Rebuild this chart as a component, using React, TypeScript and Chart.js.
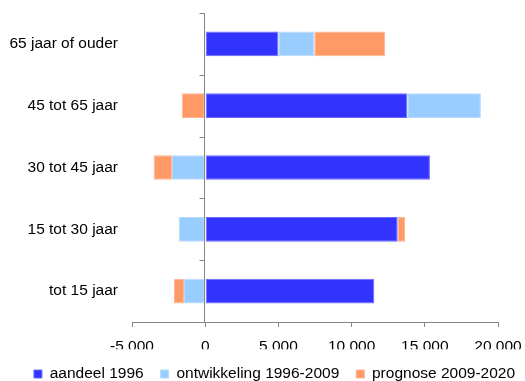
import React, { useEffect, useRef } from "react";
import { Chart, registerables } from "chart.js";

Chart.register(...registerables);

const categories = [
  "65 jaar of ouder",
  "45 tot 65 jaar",
  "30 tot 45 jaar",
  "15 tot 30 jaar",
  "tot 15 jaar",
];
const aandeel1996 = [5000, 13800, 15350, 13150, 11550];
const ontwikkeling19962009 = [2450, 5030, -2270, -1810, -1450];
const prognose20092020 = [4850, -1600, -1250, 500, -680];

const seriesNames = ["aandeel 1996", "ontwikkeling 1996-2009", "prognose 2009-2020"];
const seriesColors = ["#3333FF", "#99CCFF", "#FF9966"];
const seriesEdges = ["#6A6AFF", "#B5DAFF", "#FFB48F"];

const xMin = -5000;
const xMax = 20000;
const xStep = 5000;

const FONT = "'Liberation Sans', Arial, sans-serif";
const FONT_SIZE = 15.5;
const AXIS_GREY = "#868686";

function formatThousands(v: number): string {
  const sign = v < 0 ? "-" : "";
  const s = Math.round(Math.abs(v)).toString();
  return sign + s.replace(/\B(?=(\d{3})+(?!\d))/g, ".");
}

// Vertical axis line at zero with small tick marks between the categories.
const zeroAxisPlugin = {
  id: "zeroAxis",
  afterDraw(chart: any) {
    const { ctx, chartArea, scales } = chart;
    const x = Math.round(scales.x.getPixelForValue(0)) - 0.5;
    ctx.save();
    ctx.strokeStyle = AXIS_GREY;
    ctx.lineWidth = 1;
    ctx.beginPath();
    ctx.moveTo(x, chartArea.top);
    ctx.lineTo(x, chartArea.bottom);
    for (let i = 0; i <= categories.length; i++) {
      const y = Math.round(scales.y.getPixelForValue(i - 0.5)) + 0.5;
      ctx.moveTo(x - 5, y);
      ctx.lineTo(x, y);
    }
    ctx.stroke();
    ctx.restore();
  },
};

export default function App() {
  const canvasRef = useRef<HTMLCanvasElement | null>(null);

  useEffect(() => {
    document.body.style.margin = "0";
    const canvas = canvasRef.current;
    if (!canvas) return;
    const seriesValues = [aandeel1996, ontwikkeling19962009, prognose20092020];
    const chart = new Chart(canvas, {
      type: "bar",
      data: {
        labels: categories,
        datasets: seriesValues.map((values, i) => ({
          label: seriesNames[i],
          data: values,
          backgroundColor: seriesColors[i],
          borderColor: seriesEdges[i],
          borderWidth: 1,
          borderSkipped: false,
          barPercentage: 0.4,
          categoryPercentage: 1,
        })),
      },
      options: {
        indexAxis: "y",
        responsive: false,
        animation: false,
        layout: { padding: { left: 9, right: -15, top: 13, bottom: -10.75 } },
        scales: {
          x: {
            stacked: true,
            min: xMin,
            max: xMax,
            ticks: {
              stepSize: xStep,
              color: "#000",
              font: { family: FONT, size: FONT_SIZE },
              padding: 10,
              maxRotation: 0,
              callback: (v: any) => formatThousands(Number(v)),
            },
            grid: {
              drawOnChartArea: false,
              drawTicks: true,
              tickLength: 5,
              color: AXIS_GREY,
            },
            border: { display: true, color: AXIS_GREY },
            afterFit: (scale: any) => {
              scale.height = 27.25;
              scale.paddingRight = 27;
            },
          },
          y: {
            stacked: true,
            ticks: {
              color: "#000",
              font: { family: FONT, size: FONT_SIZE },
              padding: 14,
            },
            grid: { display: false, drawTicks: false },
            border: { display: false },
            afterFit: (scale: any) => {
              scale.width = 123;
              scale.paddingTop = 0;
              scale.paddingBottom = 0;
            },
          },
        },
        plugins: {
          legend: {
            position: "bottom",
            labels: {
              boxWidth: 8,
              boxHeight: 8,
              padding: 17,
              color: "#000",
              font: { family: FONT, size: FONT_SIZE },
            },
          },
          tooltip: { enabled: false },
        },
      },
      plugins: [zeroAxisPlugin],
    });
    return () => chart.destroy();
  }, []);

  return (
    <div style={{ position: "fixed", left: 0, top: 0, width: 525, height: 381, background: "#fff" }}>
      <canvas ref={canvasRef} width={525} height={381} style={{ width: 525, height: 381 }} />
    </div>
  );
}
